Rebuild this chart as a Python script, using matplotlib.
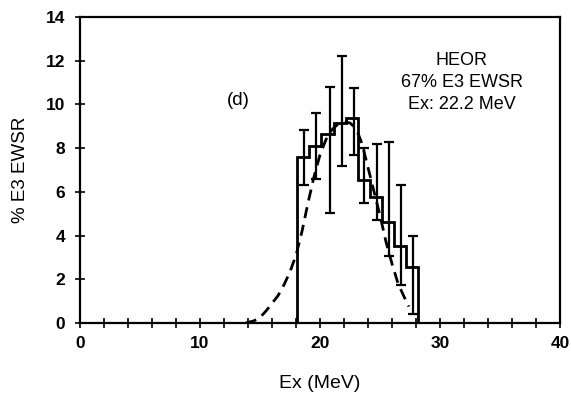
import matplotlib
matplotlib.use("Agg")
import matplotlib.pyplot as plt
import numpy as np

# ---- data ----
bin_edges = [18.1, 19.11, 20.12, 21.13, 22.14, 23.15, 24.16, 25.17, 26.18, 27.19, 28.2]
bin_values = [7.6, 8.1, 8.65, 9.15, 9.4, 6.55, 5.75, 4.6, 3.5, 2.55]
err_x = [18.7, 19.7, 20.8, 21.8, 22.8, 23.7, 24.75, 25.75, 26.75, 27.75]
err_lo = [6.3, 6.6, 5.05, 7.2, 7.7, 5.5, 4.7, 3.05, 1.75, 0.4]
err_hi = [8.85, 9.6, 10.8, 12.2, 10.75, 8.0, 8.2, 8.3, 6.3, 4.0]

fit_x = [13.8, 14.5, 15.0, 15.5, 16.0, 16.5, 17.0, 17.5, 18.0, 18.5, 19.0, 19.5,
         20.0, 20.5, 21.0, 21.5, 22.0, 22.5, 23.0, 23.5, 24.0, 24.5, 25.0, 25.5,
         26.0, 26.5, 27.0, 27.4]
fit_y = [0.0, 0.1, 0.25, 0.55, 0.9, 1.25, 1.75, 2.35, 3.1, 4.2, 5.5, 6.7,
         7.7, 8.4, 8.85, 9.1, 9.2, 9.15, 8.9, 8.2, 7.1, 6.0, 4.9, 3.7,
         2.7, 1.8, 1.2, 0.75]

x_major = [0, 10, 20, 30, 40]
y_major = [0, 2, 4, 6, 8, 10, 12, 14]

plt.rcParams['font.family'] = ['Liberation Sans', 'DejaVu Sans']

fig = plt.figure(figsize=(5.71, 4.04), dpi=100)
ax = fig.add_axes([0.140, 0.2005, 0.841, 0.7575])

# histogram as steps
edges = np.array(bin_edges)
vals = np.array(bin_values)
ax.stairs(vals, edges, baseline=0, color='black', linewidth=2.0, fill=False)

# error bars
mid = np.array(err_x)
ctr = (np.array(err_lo) + np.array(err_hi)) / 2.0
yerr = [ctr - np.array(err_lo), np.array(err_hi) - ctr]
ax.errorbar(mid, ctr, yerr=yerr, fmt='none', ecolor='black', elinewidth=1.6,
            capsize=3.5, capthick=1.6)

# dashed fit
ax.plot(fit_x, fit_y, color='black', linewidth=2.0, linestyle=(0, (4, 2.5)))

ax.set_xlim(0, 40)
ax.set_ylim(0, 14)
ax.set_xticks(x_major)
ax.set_xticks(np.arange(0, 41, 2), minor=True)
ax.set_yticks(y_major)
ax.tick_params(axis='both', which='both', direction='inout', length=7, width=1.2,
               top=False, right=False)
ax.tick_params(axis='both', which='major', labelsize=12.5)
ax.tick_params(axis='x', which='major', pad=6)
ax.tick_params(axis='y', which='major', pad=7)
for lab in ax.get_xticklabels() + ax.get_yticklabels():
    lab.set_fontweight('bold')
for s in ax.spines.values():
    s.set_linewidth(1.6)

ax.set_xlabel('Ex (MeV)', fontsize=14, labelpad=17)
ax.set_ylabel('% E3 EWSR', fontsize=13.5, labelpad=12)

ax.text(13.2, 10.2, '(d)', fontsize=13.5, ha='center', va='center')
ax.text(31.8, 11.0, 'HEOR\n67% E3 EWSR\nEx: 22.2 MeV', fontsize=13,
        ha='center', va='center', linespacing=1.4)

fig.savefig('out.png', dpi=100)
